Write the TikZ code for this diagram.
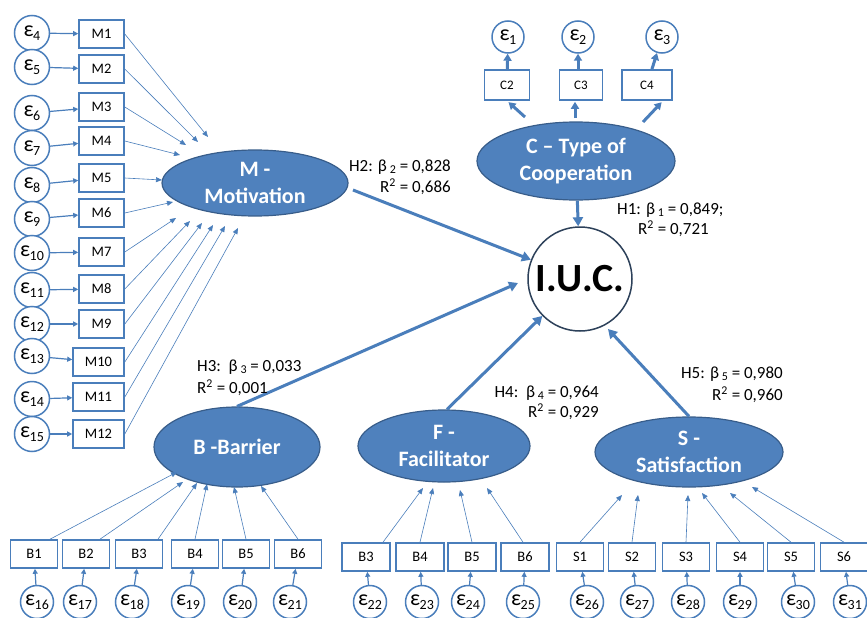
\documentclass[tikz,border=0pt]{standalone}
\usepackage{fontspec}
\setmainfont{Carlito}
\usetikzlibrary{shapes.geometric,arrows.meta}
\definecolor{fillblue}{RGB}{79,129,189}
\definecolor{edgeblue}{RGB}{56,93,138}
\definecolor{lineblue}{RGB}{74,126,187}
\definecolor{iucedge}{RGB}{45,65,90}
\newcommand\myeps[1]{{\fontsize{22}{22}\selectfont ε}\kern-0.5pt\raisebox{-4pt}{\fontsize{14}{14}\selectfont #1}}
\newcommand\mysub[1]{\,\raisebox{-2.5pt}{\fontsize{12}{12}\selectfont #1}}
\newcommand\mysup{\textsuperscript{2}}
\begin{document}
\begin{tikzpicture}[x=1pt,y=-1pt,
  obs/.style={rectangle,draw=lineblue,line width=1.6pt,fill=white,minimum width=46pt,minimum height=28pt,inner sep=0pt,font=\fontsize{14.5}{14.5}\selectfont},
  err/.style={circle,draw=lineblue,line width=1.5pt,fill=white,minimum size=35pt,inner sep=0pt},
  serr/.style={err,minimum size=33pt},
  lat/.style={ellipse,fill=fillblue,draw=edgeblue,line width=1.2pt,text=white,inner sep=-14pt,align=center,font=\fontsize{22}{27}\selectfont\bfseries},
  iuc/.style={circle,draw=iucedge,line width=1.5pt,fill=white,minimum size=104pt,inner sep=0pt,font=\fontsize{40}{40}\selectfont\bfseries},
  lab/.style={inner sep=0pt,font=\fontsize{17}{17}\selectfont},
  thinarr/.style={draw=lineblue,line width=0.6pt,-{Triangle[length=6pt,width=5pt]}},
  errarr/.style={draw=lineblue,line width=1.2pt,-{Triangle[length=5pt,width=5pt]}},
  thickarr/.style={draw=lineblue,line width=3pt,-{Triangle[length=9pt,width=10pt]}},
  midarr/.style={draw=lineblue,line width=3pt,-{Triangle[length=7pt,width=8pt]}}
]
\useasboundingbox (0,0) rectangle (867,618);

% ---------- latent variables ----------
\node[lat,minimum width=186pt,minimum height=66pt] (M) at (255,183) {M -\\Motivation};
\node[lat,minimum width=198pt,minimum height=78pt] (C) at (576,161) {C -- Type of\\Cooperation};
\node[lat,minimum width=166pt,minimum height=80pt] (B) at (237,447) {B -Barrier};
\node[lat,minimum width=172pt,minimum height=72pt] (F) at (444,446) {F -\\Facilitator};
\node[lat,minimum width=188pt,minimum height=70pt] (S) at (689,452) {S -\\Satisfaction};
\node[iuc] (IUC) at (580,279) {I.U.C.};

% ---------- M block ----------
\foreach \n/\ey/\my in {4/33/34,5/67/69,6/113/107,7/148/141,8/185/178,9/219/213,10/253/252,11/290/289,12/324/324}{
  \pgfmathtruncatemacro\m{\n-3}
  \node[err] (e\n) at (32,\ey) {\myeps{\n}};
  \node[obs,minimum width=45pt] (M\m) at (101.5,\my) {M\m};
}
\node[err] (e13) at (32,356) {\myeps{13}};
\node[obs,minimum width=51pt] (M10) at (98.5,362) {M10};
\node[err] (e14) at (32,399) {\myeps{14}};
\node[obs,minimum width=51pt] (M11) at (98.5,397) {M11};
\node[err] (e15) at (32,434) {\myeps{15}};
\node[obs,minimum width=51pt] (M12) at (98.5,434) {M12};

\foreach \m in {1,...,12}{
  \pgfmathtruncatemacro\n{\m+3}
  \draw[errarr] (e\n) -- (M\m);
}

\coordinate (mt1) at (208,137);
\coordinate (mt2) at (198,142);
\coordinate (mt3) at (186,145);
\coordinate (mt4) at (180,155);
\coordinate (mt5) at (162,180);
\coordinate (mt6) at (173,202);
\coordinate (mt7) at (176,218);
\coordinate (mt8) at (190,221);
\coordinate (mt9) at (202,223);
\coordinate (mt10) at (213,225);
\coordinate (mt11) at (225,226);
\coordinate (mt12) at (238,228);
\foreach \m in {1,...,12}{
  \draw[thinarr] (M\m.east) -- (mt\m);
}

% ---------- C block ----------
\node[serr,minimum size=32pt] (e1) at (508,37) {\myeps{1}};
\node[serr,minimum size=32pt] (e2) at (578,37) {\myeps{2}};
\node[serr,minimum size=32pt] (e3) at (662,37) {\myeps{3}};
\node[obs,minimum width=45pt,minimum height=30pt,font=\fontsize{13}{13}\selectfont] (C2) at (507,85) {C2};
\node[obs,minimum width=43pt,minimum height=30pt,font=\fontsize{13}{13}\selectfont] (C3) at (581,85) {C3};
\node[obs,minimum width=50pt,minimum height=30pt,font=\fontsize{13}{13}\selectfont] (C4) at (647,85) {C4};
\draw[midarr] (C2) -- (e1);
\draw[midarr] ([xshift=-3pt]C3.north) -- (e2);
\draw[midarr] (C4) -- (e3);
\coordinate (cs1) at (525,117);
\coordinate (cs2) at (575,118);
\coordinate (cs3) at (643,122);
\draw[midarr,shorten >=2pt] (cs1) -- (C2.south);
\draw[midarr,shorten >=1pt] (cs2) -- ([xshift=-6pt]C3.south);
\draw[midarr,shorten >=2pt] (cs3) -- ([xshift=16pt]C4.south);

% ---------- B block ----------
\foreach \i/\bx/\ex [count=\k from 16] in {1/34/37,2/86/80,3/139/132,4/195/188,5/246/240,6/298/290}{
  \node[obs,minimum width=47pt] (B\i) at (\bx,554) {B\i};
  \node[serr] (e\k) at (\ex,602) {\myeps{\k}};
  \draw[errarr] (e\k) -- (B\i);
}
\coordinate (bt1) at (177,472);
\coordinate (bt2) at (183,482);
\coordinate (bt3) at (197,483);
\coordinate (bt4) at (207,484);
\coordinate (bt5) at (234,487);
\coordinate (bt6) at (261,486);
\draw[thinarr] ([xshift=16pt]B1.north) -- (bt1);
\draw[thinarr] ([xshift=14pt]B2.north) -- (bt2);
\draw[thinarr] ([xshift=19pt]B3.north) -- (bt3);
\draw[thinarr] (B4.north) -- (bt4);
\draw[thinarr] (B5.north) -- (bt5);
\draw[thinarr] (B6.north) -- (bt6);

% ---------- F block ----------
\foreach \i/\bx/\ex [count=\k from 22] in {3/366/370,4/420/422,5/472/468,6/525/523}{
  \node[obs,minimum width=48pt] (FB\i) at (\bx,557) {B\i};
  \node[serr] (e\k) at (\ex,602) {\myeps{\k}};
  \draw[errarr] (e\k) -- (FB\i);
}
\coordinate (ft3) at (423,488);
\coordinate (ft4) at (433,488);
\coordinate (ft5) at (460,490);
\coordinate (ft6) at (487,488);
\draw[thinarr] ([xshift=17pt]FB3.north) -- (ft3);
\draw[thinarr] (FB4.north) -- (ft4);
\draw[thinarr] (FB5.north) -- (ft5);
\draw[thinarr] ([xshift=-2pt]FB6.north) -- (ft6);

% ---------- S block ----------
\foreach \i/\bx/\ex [count=\k from 26] in {1/580/587,2/632/637,3/686/688,4/740/740,5/791/798,6/844/850}{
  \node[obs,minimum width=47pt] (S\i) at (\bx,557) {S\i};
  \node[serr] (e\k) at (\ex,602) {\myeps{\k}};
  \draw[errarr] (e\k) -- (S\i);
}
\coordinate (st1) at (622,495);
\coordinate (st2) at (638,495);
\coordinate (st3) at (688,495);
\coordinate (st4) at (702,493);
\coordinate (st5) at (730,493);
\coordinate (st6) at (752,487);
\foreach \i in {1,...,6}{
  \draw[thinarr] (S\i.north) -- (st\i);
}

% ---------- structural paths ----------
\coordinate (h2s) at (353,190);
\coordinate (h3e) at (518,283);
\coordinate (h5e) at (608,329);
\draw[thickarr] (h2s) -- (IUC);
\draw[thickarr] (C) -- (IUC);
\draw[thickarr] (B.north) -- (h3e);
\draw[thickarr] ([xshift=3pt]F.north) -- (IUC);
\draw[thickarr] (S.north) -- (h5e);

% ---------- labels ----------
\node[lab,anchor=east] (l2a) at (451,167) {H2: β\mysub{2} = 0,828};
\node[lab,anchor=east] (l2b) at (451,187) {R\mysup{} = 0,686};
\node[lab,anchor=west] (l1a) at (617,210) {H1: β\mysub{1} = 0,849;};
\node[lab,anchor=east] (l1b) at (709,229) {R\mysup{} = 0,721};
\node[lab,anchor=west] (l3a) at (197,367) {H3:\ \ β\mysub{3} = 0,033};
\node[lab,anchor=west] (l3b) at (197,388) {R\mysup{} = 0,001};
\node[lab,anchor=east] (l4a) at (599,393) {H4:\ \ β\mysub{4} = 0,964};
\node[lab,anchor=east] (l4b) at (599,412) {R\mysup{} = 0,929};
\node[lab,anchor=east] (l5a) at (783,374) {H5: β\mysub{5} = 0,980};
\node[lab,anchor=east] (l5b) at (783,395) {R\mysup{} = 0,960};
\end{tikzpicture}
\end{document}
